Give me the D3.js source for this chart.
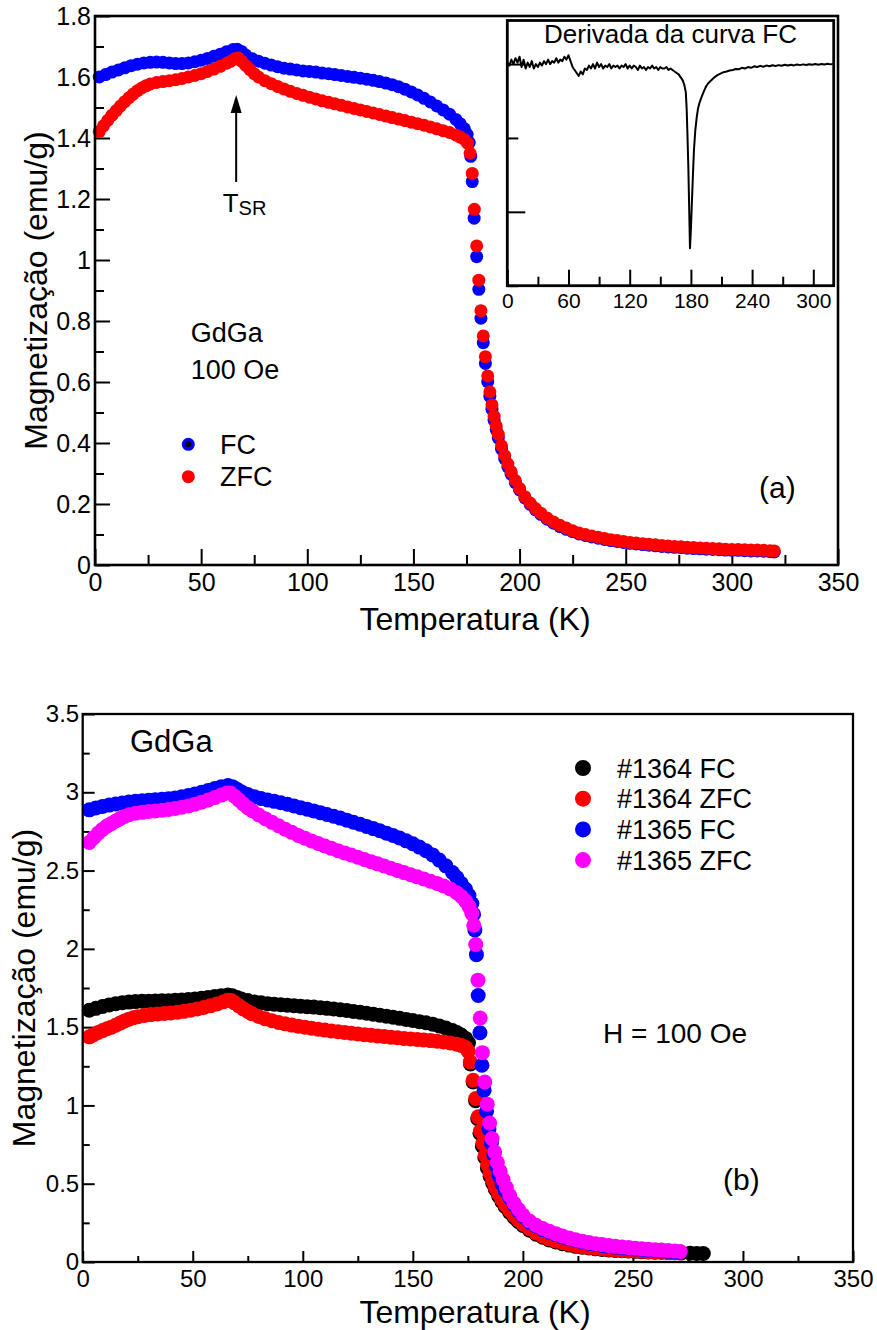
<!DOCTYPE html>
<meta charset="utf-8">
<head>
    <script src="https://d3js.org/d3.v7.min.js"></script>  <!-- D3 -->
    <style>
        body { margin: 0; background: #fff; }
    </style>
</head>
<body>
<div id="chart"></div>
<script>
// ---------- data ----------
// panel (a): [T (K), M (emu/g)]
var fcA = [[2,1.600],[5,1.608],[8,1.616],[11,1.623],[14,1.630],[17,1.637],[20,1.642],[23,1.646],[26,1.648],[29,1.649],[32,1.648],[35,1.646],[38,1.644],[41,1.644],[44,1.646],[47,1.650],[50,1.655],[53,1.661],[56,1.668],[59,1.675],[62,1.683],[65,1.690],[67,1.691],[69,1.684],[71,1.672],[74,1.660],[77,1.652],[80,1.645],[83,1.639],[86,1.634],[89,1.629],[92,1.626],[95,1.623],[98,1.620],[101,1.618],[104,1.616],[107,1.613],[110,1.611],[113,1.608],[116,1.605],[119,1.602],[122,1.599],[125,1.596],[128,1.593],[131,1.589],[134,1.585],[137,1.580],[140,1.575],[143,1.568],[146,1.560],[149,1.551],[152,1.541],[155,1.530],[158,1.518],[161,1.505],[164,1.492],[167,1.478],[170,1.461],[172,1.447],[174,1.430],[175.3,1.412],[176.3,1.385],[177,1.340],[177.7,1.257],[178.6,1.137],[179.8,1.011],[180.8,0.904],[181.8,0.809],[182.9,0.729],[183.9,0.661],[185.0,0.601],[186.0,0.553],[187.0,0.511],[188.0,0.475],[189.0,0.444],[190.0,0.416],[191.5,0.380],[193,0.349],[194.5,0.322],[196,0.298],[198,0.270],[200,0.246],[202.5,0.220],[205,0.199],[207.5,0.181],[210,0.166],[213,0.150],[216,0.137],[219,0.126],[222,0.117],[225,0.109],[228,0.102],[231,0.097],[234,0.092],[237,0.088],[240,0.084],[243,0.080],[246,0.077],[249,0.074],[252,0.071],[255,0.069],[258,0.067],[261,0.065],[264,0.063],[267,0.061],[270,0.059],[273,0.058],[276,0.057],[279,0.055],[282,0.054],[285,0.053],[288,0.052],[291,0.051],[294,0.050],[297,0.049],[300,0.048],[303,0.048],[306,0.047],[309,0.046],[312,0.046],[315,0.045],[318,0.044],[320,0.043]];
var zfcA = [[2,1.421],[4,1.440],[6,1.458],[8,1.475],[10,1.490],[12,1.505],[14,1.519],[16,1.532],[18,1.544],[20,1.555],[22,1.564],[24,1.571],[26,1.577],[29,1.582],[32,1.585],[35,1.588],[38,1.591],[41,1.595],[44,1.600],[47,1.605],[50,1.611],[53,1.618],[56,1.626],[59,1.635],[62,1.645],[64,1.652],[66,1.660],[67.5,1.662],[69,1.652],[71,1.638],[73,1.624],[75,1.611],[77,1.600],[80,1.588],[83,1.578],[86,1.569],[89,1.561],[92,1.553],[95,1.546],[98,1.540],[101,1.534],[104,1.528],[107,1.522],[110,1.517],[113,1.512],[116,1.507],[119,1.502],[122,1.497],[125,1.492],[128,1.487],[131,1.482],[134,1.477],[137,1.472],[140,1.467],[143,1.462],[146,1.457],[149,1.452],[152,1.447],[155,1.442],[158,1.436],[161,1.430],[164,1.424],[167,1.418],[170,1.410],[172,1.403],[174,1.395],[175.5,1.383],[176.7,1.350],[177.7,1.284],[178.7,1.166],[179.8,1.046],[180.8,0.934],[181.8,0.834],[182.9,0.751],[183.9,0.683],[185.0,0.620],[186.0,0.568],[187.0,0.525],[188.0,0.488],[189.0,0.456],[190.0,0.428],[191.5,0.391],[193,0.359],[194.5,0.331],[196,0.306],[198,0.277],[200,0.251],[202.5,0.224],[205,0.203],[207.5,0.185],[210,0.170],[213,0.154],[216,0.141],[219,0.130],[222,0.121],[225,0.112],[228,0.105],[231,0.100],[234,0.095],[237,0.091],[240,0.087],[243,0.083],[246,0.080],[249,0.077],[252,0.074],[255,0.072],[258,0.070],[261,0.068],[264,0.066],[267,0.064],[270,0.062],[273,0.061],[276,0.060],[279,0.058],[282,0.057],[285,0.056],[288,0.055],[291,0.054],[294,0.053],[297,0.052],[300,0.051],[303,0.051],[306,0.050],[309,0.049],[312,0.049],[315,0.048],[318,0.047],[320,0.046]];

// inset: derivative of the FC curve [T, dM/dT]
var derivFC = [[0,0.001],[2,-0.001],[4,0.003],[6,0.000],[8,0.004],[10,0.001],[12,0.005],[14,-0.002],[16,0.003],[18,-0.003],[20,0.001],[22,-0.002],[24,0.002],[26,-0.003],[28,0.000],[30,-0.002],[32,0.001],[34,-0.001],[36,0.002],[38,0.000],[40,0.003],[42,0.000],[44,0.002],[46,0.001],[48,0.004],[50,0.001],[52,0.003],[54,0.002],[56,0.005],[58,0.003],[60,0.006],[62,0.002],[64,-0.002],[66,-0.004],[68,-0.006],[70,-0.008],[72,-0.005],[74,-0.007],[76,-0.003],[78,-0.004],[80,-0.001],[82,-0.003],[84,0.000],[86,-0.003],[88,0.001],[90,-0.002],[92,0.000],[94,-0.003],[96,-0.001],[98,-0.002],[100,0.000],[102,-0.003],[104,-0.001],[106,-0.002],[108,-0.001],[110,-0.003],[112,-0.001],[114,-0.002],[116,0.000],[118,-0.003],[120,-0.001],[122,-0.003],[124,-0.001],[126,-0.002],[128,-0.004],[130,-0.001],[132,-0.003],[134,-0.002],[136,-0.004],[138,-0.002],[140,-0.003],[142,-0.001],[144,-0.003],[146,-0.002],[148,-0.004],[150,-0.002],[152,-0.003],[154,-0.003],[156,-0.002],[158,-0.004],[160,-0.003],[162,-0.004],[164,-0.005],[166,-0.006],[168,-0.007],[170,-0.009],[172,-0.011],[173.5,-0.014],[175,-0.019],[175.9,-0.031],[176.7,-0.050],[177.5,-0.070],[178.3,-0.097],[179.1,-0.1247],[180,-0.112],[180.8,-0.0966],[182,-0.075],[183,-0.058],[184.3,-0.045],[185.7,-0.036],[187,-0.030],[188.5,-0.026],[190.6,-0.022],[193,-0.018],[195,-0.015],[197,-0.013],[200,-0.011],[203,-0.009],[206,-0.0075],[209,-0.0065],[212,-0.0055],[215,-0.005],[218,-0.0043],[221,-0.004],[224,-0.0033],[227,-0.0035],[230,-0.0025],[233,-0.003],[236,-0.002],[239,-0.0025],[242,-0.0015],[245,-0.002],[248,-0.0012],[251,-0.0018],[254,-0.001],[257,-0.0015],[260,-0.0008],[263,-0.0013],[266,-0.0007],[269,-0.0011],[272,-0.0005],[275,-0.001],[278,-0.0004],[281,-0.0009],[284,-0.0003],[287,-0.0007],[290,-0.0002],[293,-0.0006],[296,-0.0001],[299,-0.0005],[302,0.0000],[305,-0.0004],[308,0.0001],[311,-0.0003],[314,0.0002],[317,-0.0002],[320,0.0003]];

// panel (b)
var fc1364 = [[3,1.608],[6,1.620],[9,1.632],[12,1.642],[15,1.650],[18,1.656],[21,1.660],[24,1.663],[27,1.665],[30,1.666],[33,1.667],[36,1.668],[39,1.669],[42,1.671],[45,1.673],[48,1.676],[51,1.680],[54,1.685],[57,1.690],[60,1.695],[63,1.701],[66,1.705],[68,1.700],[70,1.690],[72,1.680],[75,1.670],[78,1.661],[81,1.655],[84,1.650],[87,1.646],[90,1.643],[93,1.640],[96,1.637],[99,1.634],[102,1.631],[105,1.628],[108,1.624],[111,1.620],[114,1.616],[117,1.611],[120,1.606],[123,1.600],[126,1.595],[129,1.589],[132,1.583],[135,1.576],[138,1.570],[141,1.563],[144,1.556],[147,1.549],[150,1.542],[153,1.535],[156,1.528],[159,1.519],[162,1.508],[165,1.494],[168,1.478],[170,1.466],[172,1.450],[174,1.428],[175.3,1.400],[176.2,1.265],[177.4,1.150],[178.5,1.030],[179.5,0.915],[180.5,0.822],[181.6,0.740],[182.7,0.668],[183.9,0.600],[185.1,0.548],[186.3,0.503],[187.5,0.463],[189,0.422],[190.5,0.385],[192,0.353],[194,0.316],[196,0.285],[198,0.257],[200,0.233],[203,0.203],[206,0.178],[209,0.158],[212,0.141],[215,0.128],[218,0.117],[221,0.108],[224,0.100],[227,0.094],[230,0.089],[233,0.084],[236,0.080],[239,0.077],[242,0.074],[245,0.072],[248,0.070],[251,0.068],[254,0.066],[257,0.064],[260,0.063],[263,0.062],[266,0.060],[269,0.059],[272,0.058],[276,0.056],[279,0.055],[282,0.054]];
var zfc1364 = [[3,1.438],[5,1.452],[7,1.466],[9,1.478],[11,1.490],[13,1.500],[15,1.512],[17,1.526],[19,1.540],[21,1.551],[23,1.560],[25,1.567],[28,1.575],[31,1.580],[34,1.584],[37,1.587],[40,1.591],[43,1.595],[46,1.601],[49,1.608],[52,1.616],[55,1.625],[58,1.636],[61,1.648],[64,1.662],[66,1.671],[67.5,1.670],[69,1.655],[71,1.636],[73,1.617],[75,1.600],[77,1.585],[80,1.568],[83,1.553],[86,1.541],[89,1.530],[92,1.521],[95,1.513],[98,1.506],[101,1.499],[104,1.493],[107,1.487],[110,1.481],[113,1.476],[116,1.471],[119,1.466],[122,1.461],[125,1.456],[128,1.452],[131,1.448],[134,1.444],[137,1.440],[140,1.436],[143,1.432],[146,1.428],[149,1.425],[152,1.421],[155,1.418],[158,1.414],[161,1.410],[164,1.405],[167,1.399],[170,1.391],[172,1.383],[174,1.370],[175.2,1.345],[176.1,1.278],[177.4,1.161],[178.6,1.044],[179.7,0.927],[180.7,0.837],[181.8,0.757],[182.9,0.682],[184,0.620],[185.1,0.567],[186.3,0.520],[187.5,0.478],[189,0.436],[190.5,0.398],[192,0.366],[194,0.329],[196,0.297],[198,0.268],[200,0.243],[203,0.212],[206,0.186],[209,0.165],[212,0.148],[215,0.134],[218,0.123],[221,0.113],[224,0.105],[227,0.098],[230,0.093],[233,0.088],[236,0.084],[239,0.080],[242,0.077],[245,0.074],[248,0.072],[251,0.070],[254,0.068],[257,0.066],[260,0.064],[263,0.063],[266,0.061],[269,0.060],[271,0.059]];
var fc1365 = [[3,2.888],[6,2.900],[9,2.910],[12,2.918],[15,2.925],[18,2.932],[21,2.938],[24,2.942],[27,2.946],[30,2.949],[33,2.952],[36,2.955],[39,2.959],[42,2.964],[45,2.971],[48,2.979],[51,2.989],[54,3.000],[57,3.012],[60,3.024],[63,3.036],[66,3.043],[68,3.036],[70,3.020],[72,3.004],[75,2.986],[78,2.972],[81,2.961],[84,2.951],[87,2.942],[90,2.933],[93,2.924],[96,2.913],[99,2.902],[102,2.892],[105,2.881],[108,2.870],[111,2.858],[114,2.847],[117,2.835],[120,2.822],[123,2.809],[126,2.796],[129,2.782],[132,2.768],[135,2.754],[138,2.739],[141,2.724],[144,2.708],[147,2.690],[150,2.671],[153,2.650],[156,2.627],[159,2.600],[162,2.567],[165,2.530],[168,2.488],[170,2.455],[172,2.418],[174,2.380],[175.5,2.340],[176.8,2.290],[177.6,2.220],[178.2,2.120],[178.9,1.963],[179.7,1.702],[180.5,1.464],[181.4,1.257],[182.4,1.097],[183.5,0.963],[184.6,0.850],[185.7,0.760],[186.8,0.685],[188,0.610],[189.2,0.552],[190.5,0.500],[192,0.455],[194,0.410],[196,0.365],[198,0.326],[200,0.292],[203,0.254],[206,0.228],[209,0.207],[212,0.190],[215,0.175],[218,0.160],[221,0.148],[224,0.137],[227,0.127],[230,0.119],[233,0.112],[236,0.106],[239,0.100],[242,0.095],[245,0.091],[248,0.087],[251,0.083],[254,0.080],[257,0.077],[260,0.074],[263,0.071],[266,0.068],[269,0.065],[271,0.063]];
var zfc1365 = [[3,2.680],[5,2.710],[7,2.738],[9,2.763],[11,2.784],[13,2.800],[15,2.817],[17,2.832],[19,2.846],[21,2.857],[24,2.866],[27,2.872],[30,2.877],[33,2.881],[36,2.885],[39,2.890],[42,2.896],[45,2.904],[48,2.913],[51,2.924],[54,2.937],[57,2.951],[60,2.966],[63,2.982],[65.5,2.995],[67,2.996],[69,2.975],[71,2.950],[73,2.925],[75,2.902],[77,2.882],[80,2.855],[83,2.831],[86,2.808],[89,2.786],[92,2.764],[95,2.744],[98,2.724],[101,2.706],[104,2.689],[107,2.673],[110,2.657],[113,2.642],[116,2.627],[119,2.613],[122,2.599],[125,2.585],[128,2.571],[131,2.557],[134,2.543],[137,2.529],[140,2.515],[143,2.501],[146,2.487],[149,2.473],[152,2.460],[155,2.446],[158,2.432],[161,2.418],[164,2.402],[167,2.383],[170,2.358],[172,2.335],[174,2.305],[175.5,2.270],[176.8,2.226],[177.7,2.151],[178.6,2.028],[179.6,1.800],[180.6,1.558],[181.6,1.337],[182.7,1.150],[183.8,1.008],[184.9,0.888],[186,0.788],[187.2,0.703],[188.4,0.635],[189.7,0.580],[191,0.527],[192.5,0.475],[194,0.425],[196,0.375],[198,0.335],[200,0.300],[203,0.262],[206,0.235],[209,0.214],[212,0.196],[215,0.181],[218,0.166],[221,0.153],[224,0.142],[227,0.132],[230,0.124],[233,0.117],[236,0.111],[239,0.105],[242,0.100],[245,0.096],[248,0.092],[251,0.088],[254,0.085],[257,0.082],[260,0.079],[263,0.076],[266,0.073],[269,0.070],[271.5,0.067]];

// ticks
var xMajor = [0,50,100,150,200,250,300,350];
var xMinor = [25,75,125,175,225,275,325];
var yMajorA = [0,0.2,0.4,0.6,0.8,1,1.2,1.4,1.6,1.8];
var yMinorA = [0.1,0.3,0.5,0.7,0.9,1.1,1.3,1.5,1.7];
var yMajorB = [0,0.5,1,1.5,2,2.5,3,3.5];
var yMinorB = [0.25,0.75,1.25,1.75,2.25,2.75,3.25];
var xMajorI = [0,60,120,180,240,300];
var xMinorI = [30,90,150,210,270];
var yMajorI = [0,-0.1];
var yMinorI = [-0.05,-0.15];

var legendB = ["#1364 FC","#1364 ZFC","#1365 FC","#1365 ZFC"];
var colorsB = ["#000000","#ff0000","#0000ff","#ff00ff"];

var FONT = "'Liberation Sans', Arial, Helvetica, sans-serif";

var svg = d3.select("#chart").append("svg")
    .attr("width", 877)
    .attr("height", 1330)
    .style("display", "block");

function fmt(d) { return String(+d.toFixed(2)); }

// inward ticks, labels outside
function drawAxes(o) {
    var y0 = o.y.range()[0];
    var x0 = o.x.range()[0];
    var parts = [
        d3.axisBottom(o.x).tickValues(o.xMajor).tickSize(-o.xLen[0]).tickPadding(o.xPad).tickFormat(o.xLabels ? fmt : ""),
        d3.axisBottom(o.x).tickValues(o.xMinor).tickSize(-o.xLen[1]).tickFormat("")
    ];
    parts.forEach(function(a) {
        svg.append("g").attr("transform", "translate(0," + y0 + ")").call(a);
    });
    var yparts = [
        d3.axisLeft(o.y).tickValues(o.yMajor).tickSize(-o.yLen[0]).tickPadding(o.yPad).tickFormat(o.yLabels ? fmt : ""),
        d3.axisLeft(o.y).tickValues(o.yMinor).tickSize(-o.yLen[1]).tickFormat("")
    ];
    yparts.forEach(function(a) {
        svg.append("g").attr("transform", "translate(" + x0 + ",0)").call(a);
    });
    svg.selectAll(".domain").remove();
    svg.selectAll(".tick line").attr("stroke", "#000").attr("stroke-width", o.sw);
    svg.selectAll(".tick text").attr("fill", "#000")
        .attr("font-family", FONT);
}

function frame(x, y, sw) {
    svg.append("rect")
        .attr("x", x.range()[0]).attr("y", y.range()[1])
        .attr("width", x.range()[1] - x.range()[0])
        .attr("height", y.range()[0] - y.range()[1])
        .attr("fill", "none").attr("stroke", "#000").attr("stroke-width", sw);
}

function dots(data, x, y, r, color) {
    svg.append("g").selectAll("circle")
        .data(data)
        .join("circle")
        .attr("cx", function(d) { return x(d[0]); })
        .attr("cy", function(d) { return y(d[1]); })
        .attr("r", r)
        .attr("fill", color);
}

function label(txt, x, y, size, anchor) {
    return svg.append("text").attr("x", x).attr("y", y)
        .attr("font-family", FONT).attr("font-size", size)
        .attr("text-anchor", anchor || "start").attr("fill", "#000")
        .text(txt);
}

// ================= panel (a) =================
var xA = d3.scaleLinear().domain([0, 350]).range([95, 838]);
var yA = d3.scaleLinear().domain([0, 1.8]).range([565, 16]);

var gA = svg.append("g");
drawAxes({x: xA, y: yA, xMajor: xMajor, xMinor: xMinor, yMajor: yMajorA, yMinor: yMinorA,
    xLen: [16, 10], yLen: [15, 9], xPad: 8, yPad: 4, sw: 2.2, xLabels: true, yLabels: true});
svg.selectAll(".tick text").attr("font-size", 25).classed("done", true);

dots(fcA, xA, yA, 6.5, "#0000ff");
dots(zfcA, xA, yA, 6.5, "#ff0000");
frame(xA, yA, 2.6);

// T_SR arrow
var ax = xA(66.5);
svg.append("line").attr("x1", ax).attr("x2", ax)
    .attr("y1", yA(1.256)).attr("y2", yA(1.50))
    .attr("stroke", "#000").attr("stroke-width", 2);
svg.append("path")
    .attr("d", "M" + ax + "," + yA(1.541) + "L" + (ax - 5.5) + "," + (yA(1.541) + 18) + "L" + (ax + 5.5) + "," + (yA(1.541) + 18) + "Z")
    .attr("fill", "#000");
var tsr = label("T", 222.7, 212, 26);
tsr.append("tspan").attr("font-size", 20).attr("dy", 3).text("SR");

label("GdGa", 190.7, 341.7, 27);
label("100 Oe", 190.7, 379, 27);
svg.append("circle").attr("cx", 188.3).attr("cy", 444.3).attr("r", 6.5).attr("fill", "#0000ff");
svg.append("circle").attr("cx", 188.3).attr("cy", 444.3).attr("r", 3).attr("fill", "#000");
label("FC", 220, 454, 27);
svg.append("circle").attr("cx", 188.3).attr("cy", 476.7).attr("r", 6.5).attr("fill", "#ff0000");
label("ZFC", 220, 486, 27);
label("(a)", 759, 498, 30);

label("Temperatura (K)", 475, 630, 32, "middle");
svg.append("text")
    .attr("transform", "translate(47," + ((16 + 565) / 2) + ") rotate(-90)")
    .attr("font-family", FONT).attr("font-size", 32).attr("text-anchor", "middle")
    .text("Magnetização (emu/g)");

// ---- inset: derivative ----
var xI = d3.scaleLinear().domain([0, 320]).range([507.3, 833.7]);
var yI = d3.scaleLinear().domain([-0.15, 0.0295]).range([285.7, 20.5]);

svg.append("rect").attr("x", 507.3).attr("y", 20.5)
    .attr("width", 833.7 - 507.3).attr("height", 285.7 - 20.5).attr("fill", "#fff");
var before = svg.selectAll(".tick").size();
drawAxes({x: xI, y: yI, xMajor: xMajorI, xMinor: xMinorI, yMajor: yMajorI, yMinor: yMinorI,
    xLen: [16, 9], yLen: [18, 11], xPad: 7, yPad: 4, sw: 2.2, xLabels: true, yLabels: false});
svg.selectAll(".tick text:not(.done)").attr("font-size", 21).classed("done", true);

svg.append("path")
    .datum(derivFC)
    .attr("d", d3.line().x(function(d) { return xI(d[0]); }).y(function(d) { return yI(d[1]); }))
    .attr("fill", "none").attr("stroke", "#000").attr("stroke-width", 2).attr("stroke-linejoin", "round");
frame(xI, yI, 2.8);
label("Derivada da curva FC", (507.3 + 833.7) / 2, 43, 26, "middle");

// ================= panel (b) =================
var xB = d3.scaleLinear().domain([0, 350]).range([82.7, 853]);
var yB = d3.scaleLinear().domain([0, 3.5]).range([1262, 714]);

drawAxes({x: xB, y: yB, xMajor: xMajor, xMinor: xMinor, yMajor: yMajorB, yMinor: yMinorB,
    xLen: [11, 6], yLen: [12, 7], xPad: 8, yPad: 3.5, sw: 2, xLabels: true, yLabels: true});
svg.selectAll(".tick text:not(.done)").attr("font-size", 24).classed("done", true);

[fc1364, zfc1364, fc1365, zfc1365].forEach(function(s, i) {
    dots(s, xB, yB, 7.5, colorsB[i]);
});
frame(xB, yB, 2.3);

label("GdGa", 130, 751.7, 31);
legendB.forEach(function(t, i) {
    var yy = 768 + i * 30.7;
    svg.append("circle").attr("cx", 583).attr("cy", yy).attr("r", 8).attr("fill", colorsB[i]);
    label(t, 617, yy + 9.5, 27);
});
label("H = 100 Oe", 603, 1043, 28);
label("(b)", 723, 1190, 30);

label("Temperatura (K)", 475, 1323, 32, "middle");
svg.append("text")
    .attr("transform", "translate(35," + ((714 + 1262) / 2) + ") rotate(-90)")
    .attr("font-family", FONT).attr("font-size", 32).attr("text-anchor", "middle")
    .text("Magnetização (emu/g)");
</script>
</body>
